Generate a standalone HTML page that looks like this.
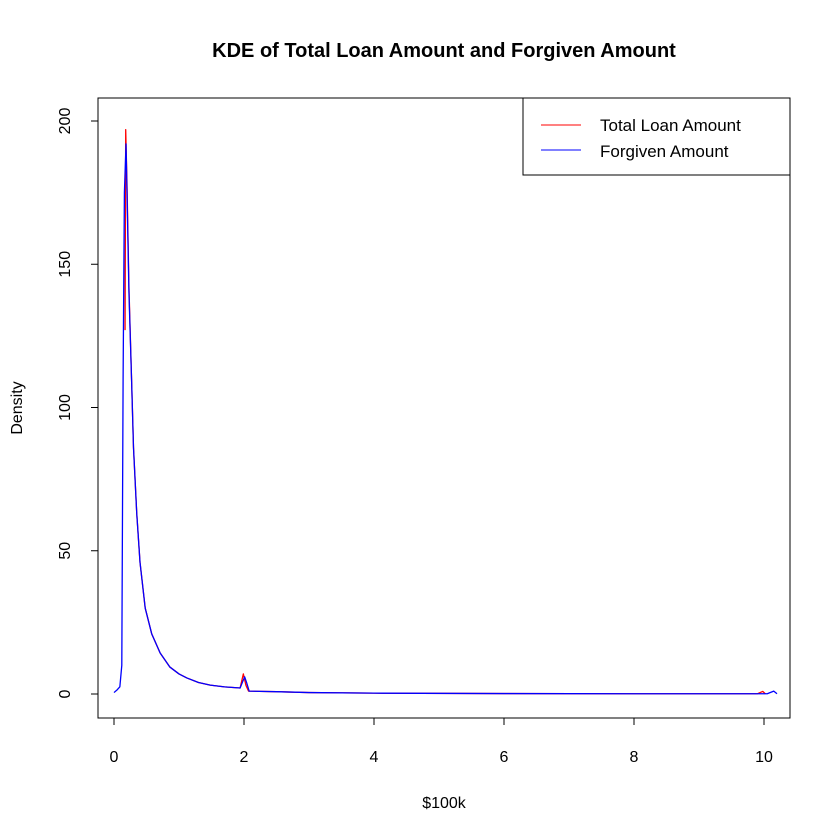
<!DOCTYPE html>
<html><head><meta charset="utf-8"><style>
body{margin:0;background:#fff}
svg{display:block;font-family:"Liberation Sans",sans-serif}
</style></head><body>
<svg id="chart" width="840" height="840">
<rect width="840" height="840" fill="#fff"/>
<text x="444" y="57" text-anchor="middle" font-size="20" font-weight="bold">KDE of Total Loan Amount and Forgiven Amount</text>
<rect x="98" y="98" width="692" height="620" fill="none" stroke="#000"/>
<g id="xaxis"></g>
<g id="yaxis"></g>
<text x="444" y="808" text-anchor="middle" font-size="16">$100k</text>
<text x="0" y="0" transform="translate(22,408) rotate(-90)" text-anchor="middle" font-size="16">Density</text>
<g id="series"></g>
<g>
<rect x="523" y="98" width="267" height="77" fill="#fff" stroke="#000"/>
<line x1="541" y1="125" x2="581" y2="125" stroke="#f00"/>
<text x="600" y="131" font-size="17">Total Loan Amount</text>
<line x1="541" y1="150" x2="581" y2="150" stroke="#00f"/>
<text x="600" y="157" font-size="17">Forgiven Amount</text>
</g>
</svg>
<script>
const xTicks=[0,2,4,6,8,10];
const yTicks=[0,50,100,150,200];
const redX=[0.17,0.18,0.2,0.23,0.27,0.3,0.35,0.4,0.48,0.58,0.71,0.86,1.0,1.12,1.3,1.48,1.7,1.94,1.99,2.03,2.07,2.5,3,4,6,8,9.9,9.98,10.02];
const redY=[127,197,178,142,110,86,63,46,30,21,14.3,9.4,7,5.6,4,3.1,2.5,2.1,7,3,1,0.8,0.5,0.3,0.15,0.1,0.1,0.9,0.1];
const blueX=[0,0.05,0.09,0.12,0.14,0.16,0.185,0.2,0.23,0.27,0.3,0.35,0.4,0.48,0.58,0.71,0.86,1.0,1.12,1.3,1.48,1.7,1.94,2.01,2.04,2.08,2.5,3,4,6,8,9.9,10.05,10.15,10.2];
const blueY=[0.5,1.5,2.5,10,110,175,192,175,140,110,86,63,46,30,21,14.3,9.4,7,5.6,4,3.1,2.5,2.1,6,4,1,0.8,0.5,0.3,0.15,0.1,0.1,0.1,1,0.1];
const sx=v=>114+v*65, sy=v=>694-v*2.865;
const NS="http://www.w3.org/2000/svg";
const xa=document.getElementById('xaxis'), ya=document.getElementById('yaxis'), se=document.getElementById('series');
function mk(t,a,p){const e=document.createElementNS(NS,t);for(const k in a)e.setAttribute(k,a[k]);p.appendChild(e);return e;}
mk('line',{x1:sx(0),x2:sx(10),y1:718,y2:718,stroke:'#000'},xa);
xTicks.forEach(t=>{
 const l=mk('line',{x1:sx(t),x2:sx(t),y1:718,y2:725,stroke:'#000'},xa);
 
 
 const tx=mk('text',{x:sx(t),y:762,'text-anchor':'middle','font-size':16},xa);tx.textContent=t;
 
 
});
mk('line',{x1:98,x2:98,y1:sy(0),y2:sy(200),stroke:'#000'},ya);
yTicks.forEach(t=>{
 const l=mk('line',{x1:91,x2:98,y1:sy(t),y2:sy(t),stroke:'#000'},ya);
 
 
 const tx=mk('text',{x:0,y:0,transform:`translate(70,${sy(t)}) rotate(-90)`,'text-anchor':'middle','font-size':16},ya);tx.textContent=t;
 
 
});
function line(xs,ys,c,name){
 const p=mk('polyline',{points:xs.map((x,i)=>sx(x)+','+sy(ys[i])).join(' '),fill:'none',stroke:c,'stroke-width':1.3,'stroke-linejoin':'round'},se);
 
 
}
line(redX,redY,'#f00','total-loan-line');
line(blueX,blueY,'#00f','forgiven-line');
</script>
</body></html>
